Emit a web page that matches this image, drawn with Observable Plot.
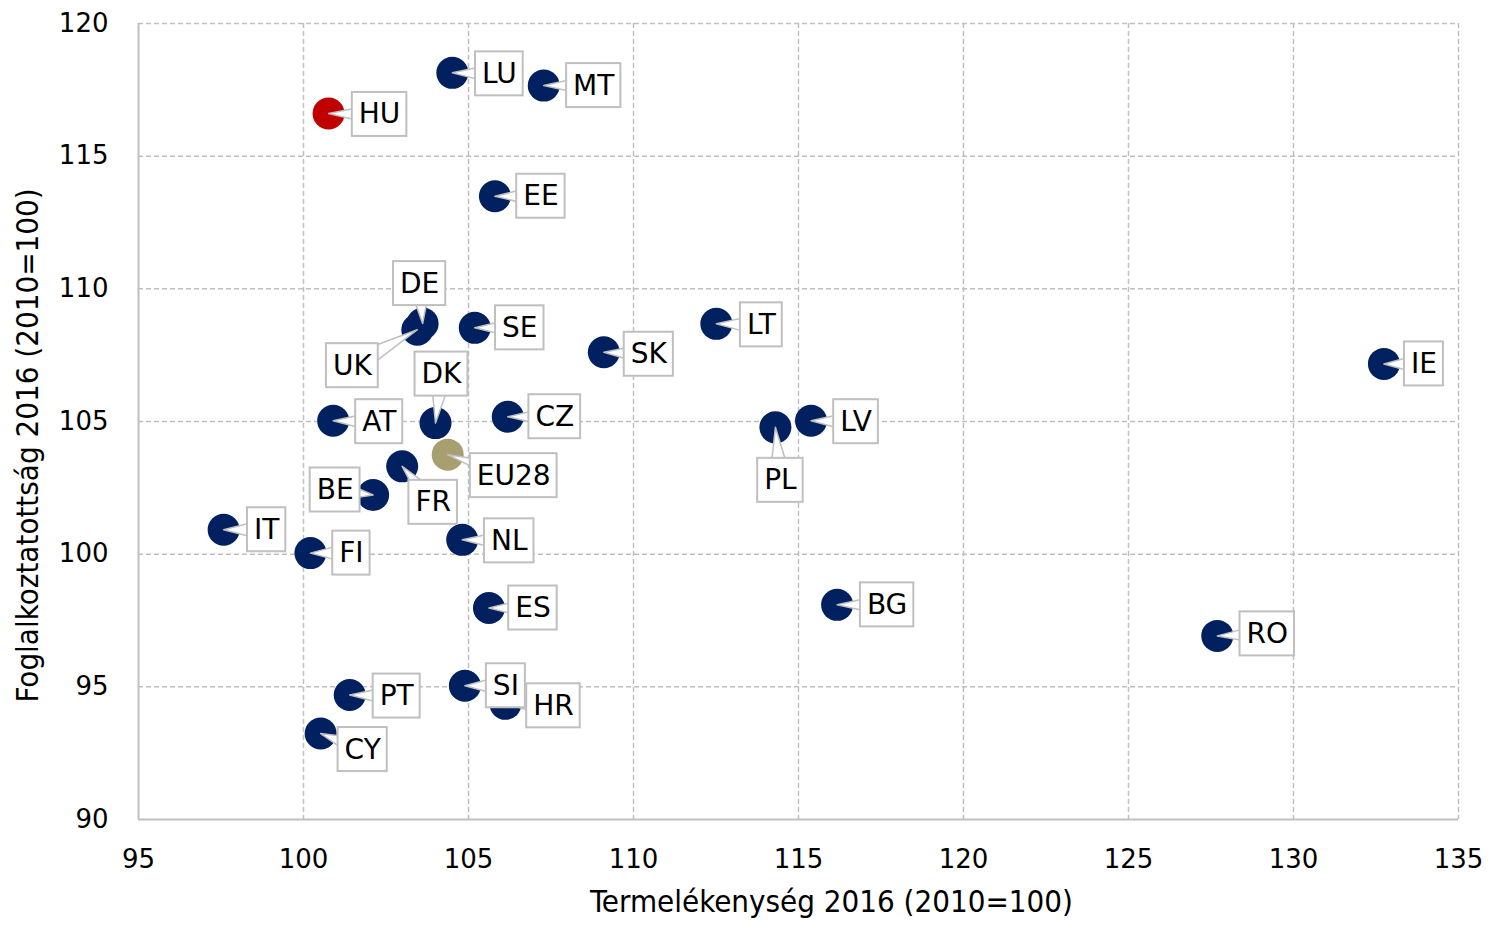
<!DOCTYPE html>
<html>
<head>
<meta charset="utf-8">
<script src="https://cdn.jsdelivr.net/npm/d3@7"></script>
<script src="https://cdn.jsdelivr.net/npm/@observablehq/plot@0.6"></script>
<style>
  html, body { margin: 0; padding: 0; background: #fff; }
  #chart svg { display: block; }
</style>
</head>
<body>
<div id="chart"></div>
<script>
// ---- data ----
const countries = ["HU","LU","MT","EE","DE","UK","SE","LT","SK","IE","AT","DK","CZ","LV","PL","EU28","FR","BE","IT","FI","NL","ES","BG","RO","PT","SI","HR","CY"];
const productivity = [100.76,104.51,107.28,105.80,103.61,103.45,105.19,112.51,109.10,132.74,100.90,104.00,106.19,115.38,114.30,104.37,102.99,102.11,97.58,100.21,104.81,105.62,116.17,127.69,101.40,104.89,106.12,100.52];
const employment = [116.61,118.14,117.66,113.49,108.69,108.46,108.53,108.68,107.61,107.17,105.03,104.94,105.18,105.03,104.78,103.75,103.31,102.23,100.92,100.04,100.54,97.97,98.09,96.92,94.69,95.04,94.36,93.24];
const groups = ["HU","EU28"]; // highlighted
const xTicks = [95,100,105,110,115,120,125,130,135];
const yTicks = [90,95,100,105,110,115,120];
const xTitle = "Termelékenység 2016 (2010=100)";
const yTitle = "Foglalkoztatottság 2016 (2010=100)";

// ---- layout ----
const W = 1498, H = 929, mL = 138, mR = 40, mT = 23, mB = 110;
const xDomain = [95, 135], yDomain = [90, 120];
// label box centre offsets in px, relative to the point
const labelOffsets = {
  HU:[51,1], LU:[47,1], MT:[50,0], EE:[46,0], DE:[-3,-40], UK:[-65,36], SE:[45,0],
  LT:[45,1], SK:[45,2], IE:[40,0], AT:[46,1], DK:[6,-49], CZ:[47,0], LV:[45,1],
  PL:[5,53], EU28:[66,21], FR:[31,36], BE:[-38,-5], IT:[43,0], FI:[41,0], NL:[47,1],
  ES:[44,0], BG:[50,0], RO:[50,-2], PT:[47,1], SI:[41,0], HR:[48,2], CY:[42,16]
};

const data = countries.map((c, i) => ({
  country: c,
  x: productivity[i],
  y: employment[i],
  group: groups.includes(c) ? c : "other"
}));

const labelFont = "DejaVu Sans";
const labelSize = 28;
const canvas = document.createElement("canvas");
const ctx = canvas.getContext("2d");
ctx.font = `${labelSize}px "${labelFont}"`;
const boxH = 44;
const gridColor = "#bfbfbf";
const wedgeHalf = 11;

// px -> data units (same linear mapping the plot uses)
const kx = (xDomain[1] - xDomain[0]) / (W - mL - mR);
const ky = (yDomain[1] - yDomain[0]) / (H - mT - mB);

const wedgePts = [], boxes = [], labels = [];
for (const d of data) {
  const [dx, dy] = labelOffsets[d.country];
  const w = ctx.measureText(d.country).width + 13;
  const len = Math.hypot(dx, dy);
  const px = -dy / len, py = dx / len; // perpendicular
  const pts = [
    [dx + wedgeHalf * px, dy + wedgeHalf * py],
    [0, 0],
    [dx - wedgeHalf * px, dy - wedgeHalf * py]
  ];
  for (const [ox, oy] of pts) {
    wedgePts.push({ country: d.country, x: d.x + ox * kx, y: d.y - oy * ky });
  }
  boxes.push(Plot.rect([d], {
    x1: "x", x2: "x", y1: "y", y2: "y",
    insetLeft: -w / 2, insetRight: -w / 2, insetTop: -boxH / 2, insetBottom: -boxH / 2,
    dx, dy, fill: "white", stroke: gridColor, strokeWidth: 2
  }));
  labels.push(Plot.text([d], {
    x: "x", y: "y", text: "country", dx, dy,
    fontSize: labelSize, fontFamily: labelFont, fill: "black"
  }));
}

const chart = Plot.plot({
  width: W,
  height: H,
  marginLeft: mL,
  marginRight: mR,
  marginTop: mT,
  marginBottom: mB,
  style: { fontFamily: "DejaVu Sans", fontSize: "26px", color: "black", background: "white" },
  x: { domain: xDomain, ticks: xTicks, tickSize: 0, tickPadding: 30, label: null },
  y: { domain: yDomain, ticks: yTicks, tickSize: 0, tickPadding: 30, label: null },
  color: { domain: ["HU", "EU28", "other"], range: ["#c00000", "#a89f70", "#002060"] },
  marks: [
    Plot.ruleX(xTicks.slice(1), { stroke: gridColor, strokeWidth: 1.5, strokeDasharray: "5,3" }),
    Plot.ruleY(yTicks.slice(1), { stroke: gridColor, strokeWidth: 1.5, strokeDasharray: "5,3" }),
    Plot.ruleX([95], { stroke: gridColor, strokeWidth: 2 }),
    Plot.ruleY([90], { stroke: gridColor, strokeWidth: 2 }),
    Plot.dot(data, { x: "x", y: "y", r: 16, fill: "group" }),
    Plot.line(wedgePts, { x: "x", y: "y", z: "country", fill: "white", stroke: gridColor, strokeWidth: 1.5, curve: "linear" }),
    ...boxes,
    ...labels,
    Plot.text([xTitle], { frameAnchor: "bottom", dx: 33, dy: 92, fontSize: 31, fontFamily: "DejaVu Sans Condensed", fill: "black", textAnchor: "middle" }),
    Plot.text([yTitle], { frameAnchor: "left", dx: -110, dy: 24, rotate: -90, fontSize: 31, fontFamily: "DejaVu Sans Condensed", fill: "black", textAnchor: "middle" })
  ]
});
document.getElementById("chart").appendChild(chart);
</script>
</body>
</html>
